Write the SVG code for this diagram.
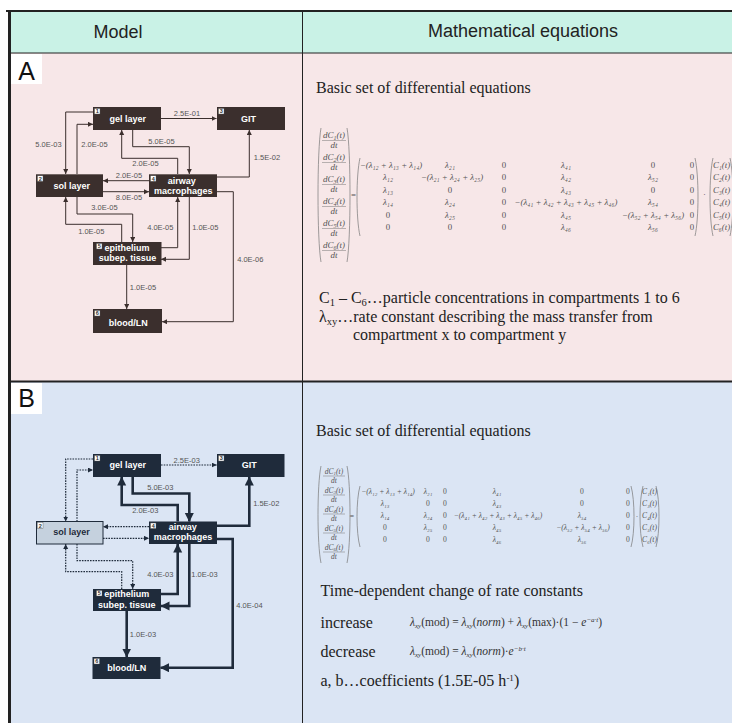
<svg xmlns="http://www.w3.org/2000/svg" width="732" height="723" viewBox="0 0 732 723">
<style>
.hdr{font-family:"Liberation Sans",Arial,sans-serif;font-size:18px;fill:#222;text-anchor:middle}
.pl{font-family:"Liberation Sans",Arial,sans-serif;font-size:25px;fill:#111;text-anchor:middle}
.nA{fill:#3b2f2d}
.nB{fill:#1f2b3b}
.nS{fill:#c5d1de;stroke:#1f2b3b;stroke-width:1}
.nt{font-family:"Liberation Sans",Arial,sans-serif;font-weight:bold;font-size:9px;fill:#fff;text-anchor:middle}
.ntd{font-family:"Liberation Sans",Arial,sans-serif;font-weight:bold;font-size:9px;fill:#1f2b3b;text-anchor:middle}
.num{fill:#fff;stroke:#555;stroke-width:0.4}
.numt{font-family:"Liberation Sans",Arial,sans-serif;font-weight:bold;font-size:5.5px;fill:#333;text-anchor:middle}
.lb{font-family:"Liberation Sans",Arial,sans-serif;font-size:7.5px;fill:#555;text-anchor:middle}
.cA{fill:none;stroke:#3b2f2d;stroke-width:1}
.cBd{fill:none;stroke:#1f2b3b;stroke-width:1.2;stroke-dasharray:1.6 1.1}
.cBt{fill:none;stroke:#1f2b3b;stroke-width:2.6}
.tx{font-family:"Liberation Serif","Times New Roman",serif;font-size:16px;fill:#222}
.m{font-family:"Liberation Serif","Times New Roman",serif;font-size:8.8px;fill:#555;font-style:italic;text-anchor:middle}
.mb{font-family:"Liberation Serif","Times New Roman",serif;font-size:7.6px;fill:#555;font-style:italic;text-anchor:middle}
.f{font-family:"Liberation Serif","Times New Roman",serif;font-size:9px;fill:#555;font-style:italic;text-anchor:middle}
.fs{font-family:"Liberation Serif","Times New Roman",serif;font-size:7.5px;fill:#555;font-style:italic;text-anchor:middle}
.z{font-style:normal}
.br{fill:none;stroke:#777;stroke-width:0.7}
.fb{stroke:#777;stroke-width:0.5}
.fm{font-family:"Liberation Serif","Times New Roman",serif;font-size:11.5px;fill:#333}
</style>
<defs>
<marker id="aA" markerUnits="userSpaceOnUse" markerWidth="6" markerHeight="6" refX="5" refY="2.5" orient="auto"><path d="M0,0 L5,2.5 L0,5 z" fill="#3b2f2d"/></marker>
<marker id="aBs" markerUnits="userSpaceOnUse" markerWidth="6" markerHeight="6" refX="5" refY="2.5" orient="auto"><path d="M0,0 L5,2.5 L0,5 z" fill="#1f2b3b"/></marker>
<marker id="aBb" markerUnits="userSpaceOnUse" markerWidth="10" markerHeight="10" refX="8.5" refY="4.5" orient="auto"><path d="M0,0 L9,4.5 L0,9 z" fill="#1f2b3b"/></marker>
</defs>

<!-- table backgrounds -->
<rect x="9" y="11" width="723" height="42" fill="#c9f2e6"/>
<rect x="9" y="53" width="723" height="329" fill="#f7e7e8"/>
<rect x="9" y="382" width="723" height="341" fill="#dbe5f4"/>
<g stroke="#222" fill="none">
<line x1="6" y1="11" x2="732" y2="11" stroke-width="2"/>
<line x1="9.5" y1="10" x2="9.5" y2="723" stroke-width="3"/>
<line x1="9" y1="53" x2="732" y2="53" stroke-width="1"/>
<line x1="302.5" y1="11" x2="302.5" y2="723" stroke-width="1"/>
<line x1="9" y1="381.5" x2="732" y2="381.5" stroke-width="2"/>
</g>
<text class="hdr" x="118" y="38">Model</text>
<text class="hdr" x="523" y="37">Mathematical equations</text>

<!-- panel labels -->
<rect x="11" y="54" width="31" height="30" fill="#fff"/>
<text class="pl" x="26.5" y="80">A</text>
<rect x="11" y="383" width="31" height="31" fill="#fff"/>
<text class="pl" x="26.5" y="407">B</text>

<!-- ===== Panel A diagram ===== -->
<g id="edgesA">
<path class="cA" d="M161,118.5 H216.5" marker-end="url(#aA)"/>
<path class="cA" d="M93,112 H65.7 V174" marker-end="url(#aA)"/>
<path class="cA" d="M77,174 V124.3 H93" marker-end="url(#aA)"/>
<path class="cA" d="M132.7,130 V146.7 H189.3 V174" marker-end="url(#aA)"/>
<path class="cA" d="M177.7,174 V158.3 H121.7 V130" marker-end="url(#aA)"/>
<path class="cA" d="M217,177 H249.3 V130" marker-end="url(#aA)"/>
<path class="cA" d="M149,180.7 H103" marker-end="url(#aA)"/>
<path class="cA" d="M103,191.7 H149" marker-end="url(#aA)"/>
<path class="cA" d="M77,197 V214 H132.7 V242" marker-end="url(#aA)"/>
<path class="cA" d="M121.7,242 V224.3 H65.7 V197" marker-end="url(#aA)"/>
<path class="cA" d="M161,247.7 H177.7 V197" marker-end="url(#aA)"/>
<path class="cA" d="M189.3,197 V259.3 H161" marker-end="url(#aA)"/>
<path class="cA" d="M217,191.7 H233.3 V321.7 H162" marker-end="url(#aA)"/>
<path class="cA" d="M126.7,265 V309" marker-end="url(#aA)"/>
<text class="lb" x="187" y="116">2.5E-01</text>
<text class="lb" x="48.5" y="146.5">5.0E-03</text>
<text class="lb" x="94.5" y="146.5">2.0E-05</text>
<text class="lb" x="161.5" y="143.5">5.0E-05</text>
<text class="lb" x="145.5" y="166">2.0E-05</text>
<text class="lb" x="267" y="159.5">1.5E-02</text>
<text class="lb" x="129" y="177.5">2.0E-05</text>
<text class="lb" x="129" y="200">8.0E-05</text>
<text class="lb" x="104.5" y="209.5">3.0E-05</text>
<text class="lb" x="91.3" y="234">1.0E-05</text>
<text class="lb" x="160.3" y="230">4.0E-05</text>
<text class="lb" x="205.3" y="230">1.0E-05</text>
<text class="lb" x="250.3" y="262">4.0E-06</text>
<text class="lb" x="143" y="290">1.0E-05</text>
</g>
<g id="nA1"><rect class="nA" x="93" y="107" width="68" height="23"/><rect class="num" x="94.5" y="108.5" width="5.5" height="5.5"/><text class="numt" x="97.25" y="113.4">1</text><text class="nt" x="127.7" y="122">gel layer</text></g>
<g id="nA3"><rect class="nA" x="217" y="107" width="68" height="23"/><rect class="num" x="218.5" y="108.5" width="5.5" height="5.5"/><text class="numt" x="221.25" y="113.4">3</text><text class="nt" x="248.5" y="122">GIT</text></g>
<g id="nA2"><rect class="nA" x="36" y="174.3" width="67" height="22.7"/><rect class="num" x="37.5" y="175.8" width="5.5" height="5.5"/><text class="numt" x="40.25" y="180.7">2</text><text class="nt" x="71.7" y="188.5">sol layer</text></g>
<g id="nA4"><rect class="nA" x="149" y="174.3" width="68" height="22.7"/><rect class="num" x="150.5" y="175.8" width="5.5" height="5.5"/><text class="numt" x="153.25" y="180.7">4</text><text class="nt" x="181.7" y="183.7">airway</text><text class="nt" x="183.2" y="193.7">macrophages</text></g>
<g id="nA5"><rect class="nA" x="93" y="242" width="68.5" height="23"/><rect class="num" x="96.5" y="243.5" width="5.5" height="5.5"/><text class="numt" x="99.25" y="248.4">5</text><text class="nt" x="127" y="251.3">epithelium</text><text class="nt" x="127.5" y="261.3">subep. tissue</text></g>
<g id="nA6"><rect class="nA" x="93" y="309" width="69" height="24"/><rect class="num" x="94.5" y="310.5" width="5.5" height="5.5"/><text class="numt" x="97.25" y="315.4">6</text><text class="nt" x="128.3" y="325.5">blood/LN</text></g>

<!-- ===== Panel B diagram ===== -->
<g id="edgesB">
<path class="cBd" d="M161,465 H216.7" marker-end="url(#aBs)"/>
<path class="cBd" d="M93,459 H65.7 V521.5" marker-end="url(#aBs)"/>
<path class="cBd" d="M77,521.5 V470 H93" marker-end="url(#aBs)"/>
<path class="cBd" d="M149,526.7 H103" marker-end="url(#aBs)"/>
<path class="cBd" d="M103,538.3 H149" marker-end="url(#aBs)"/>
<path class="cBd" d="M77,544 V560.7 H132.7 V589" marker-end="url(#aBs)"/>
<path class="cBd" d="M121.7,589 V571.7 H65.7 V544" marker-end="url(#aBs)"/>
<path class="cBt" d="M132.7,477 V493.5 H189.3 V521.5" marker-end="url(#aBb)"/>
<path class="cBt" d="M177.7,521.5 V505 H121.7 V477" marker-end="url(#aBb)"/>
<path class="cBt" d="M217,525.7 H249.3 V477" marker-end="url(#aBb)"/>
<path class="cBt" d="M161,594 H177.7 V544" marker-end="url(#aBb)"/>
<path class="cBt" d="M189.3,544 V606 H161" marker-end="url(#aBb)"/>
<path class="cBt" d="M217,539 H232.7 V667.7 H160.5" marker-end="url(#aBb)"/>
<path class="cBt" d="M126.7,611 V657" marker-end="url(#aBb)"/>
<text class="lb" x="186.7" y="463">2.5E-03</text>
<text class="lb" x="160.3" y="490">5.0E-03</text>
<text class="lb" x="145.3" y="513">2.0E-03</text>
<text class="lb" x="266.3" y="506">1.5E-02</text>
<text class="lb" x="160.3" y="576.5">4.0E-03</text>
<text class="lb" x="204.5" y="576.5">1.0E-03</text>
<text class="lb" x="249.5" y="608">4.0E-04</text>
<text class="lb" x="143" y="636.5">1.0E-03</text>
</g>
<g id="nB1"><rect class="nB" x="93" y="454" width="68" height="23"/><rect class="num" x="94.5" y="455.5" width="5.5" height="5.5"/><text class="numt" x="97.25" y="460.4">1</text><text class="nt" x="127.7" y="468.3">gel layer</text></g>
<g id="nB3"><rect class="nB" x="217" y="454" width="67.5" height="23"/><rect class="num" x="218.5" y="455.5" width="5.5" height="5.5"/><text class="numt" x="221.25" y="460.4">3</text><text class="nt" x="249.3" y="468.3">GIT</text></g>
<g id="nB2"><rect class="nS" x="36.5" y="521.5" width="66.5" height="22.5"/><rect class="num" x="37.5" y="522.7" width="5.5" height="5.5"/><text class="numt" x="40.25" y="527.6">2</text><text class="ntd" x="71.5" y="535">sol layer</text></g>
<g id="nB4"><rect class="nB" x="149" y="521.5" width="68" height="22.5"/><rect class="num" x="150.5" y="523" width="5.5" height="5.5"/><text class="numt" x="153.25" y="527.9">4</text><text class="nt" x="182.7" y="529.5">airway</text><text class="nt" x="183" y="539.5">macrophages</text></g>
<g id="nB5"><rect class="nB" x="93" y="589" width="68" height="22"/><rect class="num" x="96.5" y="590.5" width="5.5" height="5.5"/><text class="numt" x="99.25" y="595.4">5</text><text class="nt" x="126.7" y="597">epithelium</text><text class="nt" x="126.7" y="607.7">subep. tissue</text></g>
<g id="nB6"><rect class="nB" x="92.5" y="657" width="68" height="22"/><rect class="num" x="94" y="658.5" width="5.5" height="5.5"/><text class="numt" x="96.75" y="663.4">6</text><text class="nt" x="126.7" y="671">blood/LN</text></g>

<!-- ===== Equations A ===== -->
<g id="eqA">
<text class="tx" x="316" y="93" font-size="14.8">Basic set of differential equations</text>
<path class="br" d="M321,128 C317,150 317,240 321,262"/>
<path class="br" d="M347,128 C351,150 351,240 347,262"/>
<text class="f" x="334" y="138">dC<tspan font-size="6" dy="2">1</tspan><tspan dy="-2">(t)</tspan></text><line class="fb" x1="322" y1="140.5" x2="346" y2="140.5"/><text class="f" x="334" y="148">dt</text>
<text class="f" x="334" y="160">dC<tspan font-size="6" dy="2">2</tspan><tspan dy="-2">(t)</tspan></text><line class="fb" x1="322" y1="162.5" x2="346" y2="162.5"/><text class="f" x="334" y="170">dt</text>
<text class="f" x="334" y="182">dC<tspan font-size="6" dy="2">3</tspan><tspan dy="-2">(t)</tspan></text><line class="fb" x1="322" y1="184.5" x2="346" y2="184.5"/><text class="f" x="334" y="192">dt</text>
<text class="f" x="334" y="204">dC<tspan font-size="6" dy="2">4</tspan><tspan dy="-2">(t)</tspan></text><line class="fb" x1="322" y1="206.5" x2="346" y2="206.5"/><text class="f" x="334" y="214">dt</text>
<text class="f" x="334" y="226">dC<tspan font-size="6" dy="2">5</tspan><tspan dy="-2">(t)</tspan></text><line class="fb" x1="322" y1="228.5" x2="346" y2="228.5"/><text class="f" x="334" y="236">dt</text>
<text class="f" x="334" y="248">dC<tspan font-size="6" dy="2">6</tspan><tspan dy="-2">(t)</tspan></text><line class="fb" x1="322" y1="250.5" x2="346" y2="250.5"/><text class="f" x="334" y="258">dt</text>
<text class="m z" x="353.5" y="198" font-size="9.5">=</text>
<path class="br" d="M360,158 C356,175 356,219 360,236"/>
<path class="br" d="M695,158 C699,175 699,219 695,236"/>
<text class="m" x="391" y="167.5">−(λ₁₂ + λ₁₃ + λ₁₄)</text>
<text class="m" x="450" y="167.5">λ₂₁</text>
<text class="m z" x="504" y="167.5">0</text>
<text class="m" x="566" y="167.5">λ₄₁</text>
<text class="m z" x="653" y="167.5">0</text>
<text class="m z" x="692" y="167.5">0</text>
<text class="m" x="388" y="180">λ₁₂</text>
<text class="m" x="452" y="180">−(λ₂₁ + λ₂₄ + λ₂₅)</text>
<text class="m z" x="504" y="180">0</text>
<text class="m" x="566" y="180">λ₄₂</text>
<text class="m" x="653" y="180">λ₅₂</text>
<text class="m z" x="692" y="180">0</text>
<text class="m" x="388" y="192.5">λ₁₃</text>
<text class="m z" x="450" y="192.5">0</text>
<text class="m z" x="504" y="192.5">0</text>
<text class="m" x="566" y="192.5">λ₄₃</text>
<text class="m z" x="653" y="192.5">0</text>
<text class="m z" x="692" y="192.5">0</text>
<text class="m" x="388" y="205">λ₁₄</text>
<text class="m" x="450" y="205">λ₂₄</text>
<text class="m z" x="504" y="205">0</text>
<text class="m" x="566" y="205">−(λ₄₁ + λ₄₂ + λ₄₃ + λ₄₅ + λ₄₆)</text>
<text class="m" x="653" y="205">λ₅₄</text>
<text class="m z" x="692" y="205">0</text>
<text class="m z" x="388" y="217.5">0</text>
<text class="m" x="450" y="217.5">λ₂₅</text>
<text class="m z" x="504" y="217.5">0</text>
<text class="m" x="566" y="217.5">λ₄₅</text>
<text class="m" x="653" y="217.5">−(λ₅₂ + λ₅₄ + λ₅₆)</text>
<text class="m z" x="692" y="217.5">0</text>
<text class="m z" x="388" y="230">0</text>
<text class="m z" x="450" y="230">0</text>
<text class="m z" x="504" y="230">0</text>
<text class="m" x="566" y="230">λ₄₆</text>
<text class="m" x="653" y="230">λ₅₆</text>
<text class="m z" x="692" y="230">0</text>
<text class="m z" x="704.5" y="197">·</text>
<path class="br" d="M713,158 C709,175 709,219 713,236"/>
<path class="br" d="M730,158 C734,175 734,219 730,236"/>
<text class="m" x="721.5" y="167.5">C₁(t)</text>
<text class="m" x="721.5" y="180">C₂(t)</text>
<text class="m" x="721.5" y="192.5">C₃(t)</text>
<text class="m" x="721.5" y="205">C₄(t)</text>
<text class="m" x="721.5" y="217.5">C₅(t)</text>
<text class="m" x="721.5" y="230">C₆(t)</text>
<text class="tx" x="319" y="303">C<tspan font-size="10.5" dy="3">1</tspan><tspan dy="-3"> – C</tspan><tspan font-size="10.5" dy="3">6</tspan><tspan dy="-3">…particle concentrations in compartments 1 to 6</tspan></text>
<text class="tx" x="319" y="321.5">λ<tspan font-size="10.5" dy="3">xy</tspan><tspan dy="-3">…rate constant describing the mass transfer from</tspan></text>
<text class="tx" x="353" y="339.5">compartment x to compartment y</text>
</g>

<!-- ===== Equations B ===== -->
<g id="eqB">
<text class="tx" x="316" y="436" font-size="14.8">Basic set of differential equations</text>
<path class="br" d="M321,466 C317,485 317,544 321,563"/>
<path class="br" d="M347,466 C351,485 351,544 347,563"/>
<text class="fs" x="334" y="473.5">dC<tspan font-size="5" dy="1.5">1</tspan><tspan dy="-1.5">(t)</tspan></text><line class="fb" x1="323" y1="476" x2="345" y2="476"/><text class="fs" x="334" y="483">dt</text>
<text class="fs" x="334" y="492.5">dC<tspan font-size="5" dy="1.5">3</tspan><tspan dy="-1.5">(t)</tspan></text><line class="fb" x1="323" y1="495" x2="345" y2="495"/><text class="fs" x="334" y="502">dt</text>
<text class="fs" x="334" y="511.5">dC<tspan font-size="5" dy="1.5">4</tspan><tspan dy="-1.5">(t)</tspan></text><line class="fb" x1="323" y1="514" x2="345" y2="514"/><text class="fs" x="334" y="521">dt</text>
<text class="fs" x="334" y="530.5">dC<tspan font-size="5" dy="1.5">5</tspan><tspan dy="-1.5">(t)</tspan></text><line class="fb" x1="323" y1="533" x2="345" y2="533"/><text class="fs" x="334" y="540">dt</text>
<text class="fs" x="334" y="549.5">dC<tspan font-size="5" dy="1.5">6</tspan><tspan dy="-1.5">(t)</tspan></text><line class="fb" x1="323" y1="552" x2="345" y2="552"/><text class="fs" x="334" y="559">dt</text>
<text class="mb z" x="352" y="519" font-size="9">=</text>
<path class="br" d="M360,486 C356,500 356,533 360,547"/>
<path class="br" d="M631,486 C635,500 635,533 631,547"/>
<text class="mb" x="388" y="494">−(λ₁₂ + λ₁₃ + λ₁₄)</text>
<text class="mb" x="428" y="494">λ₂₁</text>
<text class="mb z" x="445" y="494">0</text>
<text class="mb" x="497" y="494">λ₄₁</text>
<text class="mb z" x="582" y="494">0</text>
<text class="mb z" x="628" y="494">0</text>
<text class="mb" x="385" y="506">λ₁₃</text>
<text class="mb z" x="428" y="506">0</text>
<text class="mb z" x="445" y="506">0</text>
<text class="mb" x="497" y="506">λ₄₃</text>
<text class="mb z" x="582" y="506">0</text>
<text class="mb z" x="628" y="506">0</text>
<text class="mb" x="385" y="518">λ₁₄</text>
<text class="mb" x="428" y="518">λ₂₄</text>
<text class="mb z" x="445" y="518">0</text>
<text class="mb" x="498" y="518">−(λ₄₁ + λ₄₂ + λ₄₃ + λ₄₅ + λ₄₆)</text>
<text class="mb" x="582" y="518">λ₅₄</text>
<text class="mb z" x="628" y="518">0</text>
<text class="mb z" x="385" y="530">0</text>
<text class="mb" x="428" y="530">λ₂₅</text>
<text class="mb z" x="445" y="530">0</text>
<text class="mb" x="497" y="530">λ₄₅</text>
<text class="mb" x="583" y="530">−(λ₅₂ + λ₅₄ + λ₅₆)</text>
<text class="mb z" x="628" y="530">0</text>
<text class="mb z" x="385" y="542">0</text>
<text class="mb z" x="428" y="542">0</text>
<text class="mb z" x="445" y="542">0</text>
<text class="mb" x="497" y="542">λ₄₆</text>
<text class="mb" x="582" y="542">λ₅₆</text>
<text class="mb z" x="628" y="542">0</text>
<text class="mb z" x="637" y="519">·</text>
<path class="br" d="M643,486 C639,500 639,533 643,547"/>
<path class="br" d="M656,486 C660,500 660,533 656,547"/>
<text class="mb" x="649.5" y="494">C₁(t)</text>
<text class="mb" x="649.5" y="506">C₃(t)</text>
<text class="mb" x="649.5" y="518">C₄(t)</text>
<text class="mb" x="649.5" y="530">C₅(t)</text>
<text class="mb" x="649.5" y="542">C₆(t)</text>
<text class="tx" x="320.5" y="596">Time-dependent change of rate constants</text>
<text class="tx" x="320.5" y="628">increase</text>
<text class="fm" x="410" y="626"><tspan font-style="italic">λ</tspan><tspan font-size="7" dy="2" font-style="italic">xy</tspan><tspan dy="-2">(mod) = </tspan><tspan font-style="italic">λ</tspan><tspan font-size="7" dy="2" font-style="italic">xy</tspan><tspan dy="-2">(</tspan><tspan font-style="italic">norm</tspan><tspan>) + </tspan><tspan font-style="italic">λ</tspan><tspan font-size="7" dy="2" font-style="italic">xy</tspan><tspan dy="-2">(max)·(1 − </tspan><tspan font-style="italic">e</tspan><tspan font-size="7" dy="-4.5" font-style="italic">−a·t</tspan><tspan dy="4.5">)</tspan></text>
<text class="tx" x="320.5" y="657">decrease</text>
<text class="fm" x="410" y="655"><tspan font-style="italic">λ</tspan><tspan font-size="7" dy="2" font-style="italic">xy</tspan><tspan dy="-2">(mod) = </tspan><tspan font-style="italic">λ</tspan><tspan font-size="7" dy="2" font-style="italic">xy</tspan><tspan dy="-2">(</tspan><tspan font-style="italic">norm</tspan><tspan>)·</tspan><tspan font-style="italic">e</tspan><tspan font-size="7" dy="-4.5" font-style="italic">−b·t</tspan></text>
<text class="tx" x="320.5" y="686" font-size="14.4">a, b…coefficients (1.5E-05 h<tspan font-size="9" dy="-5">-1</tspan><tspan dy="5">)</tspan></text>
</g>
</svg>
